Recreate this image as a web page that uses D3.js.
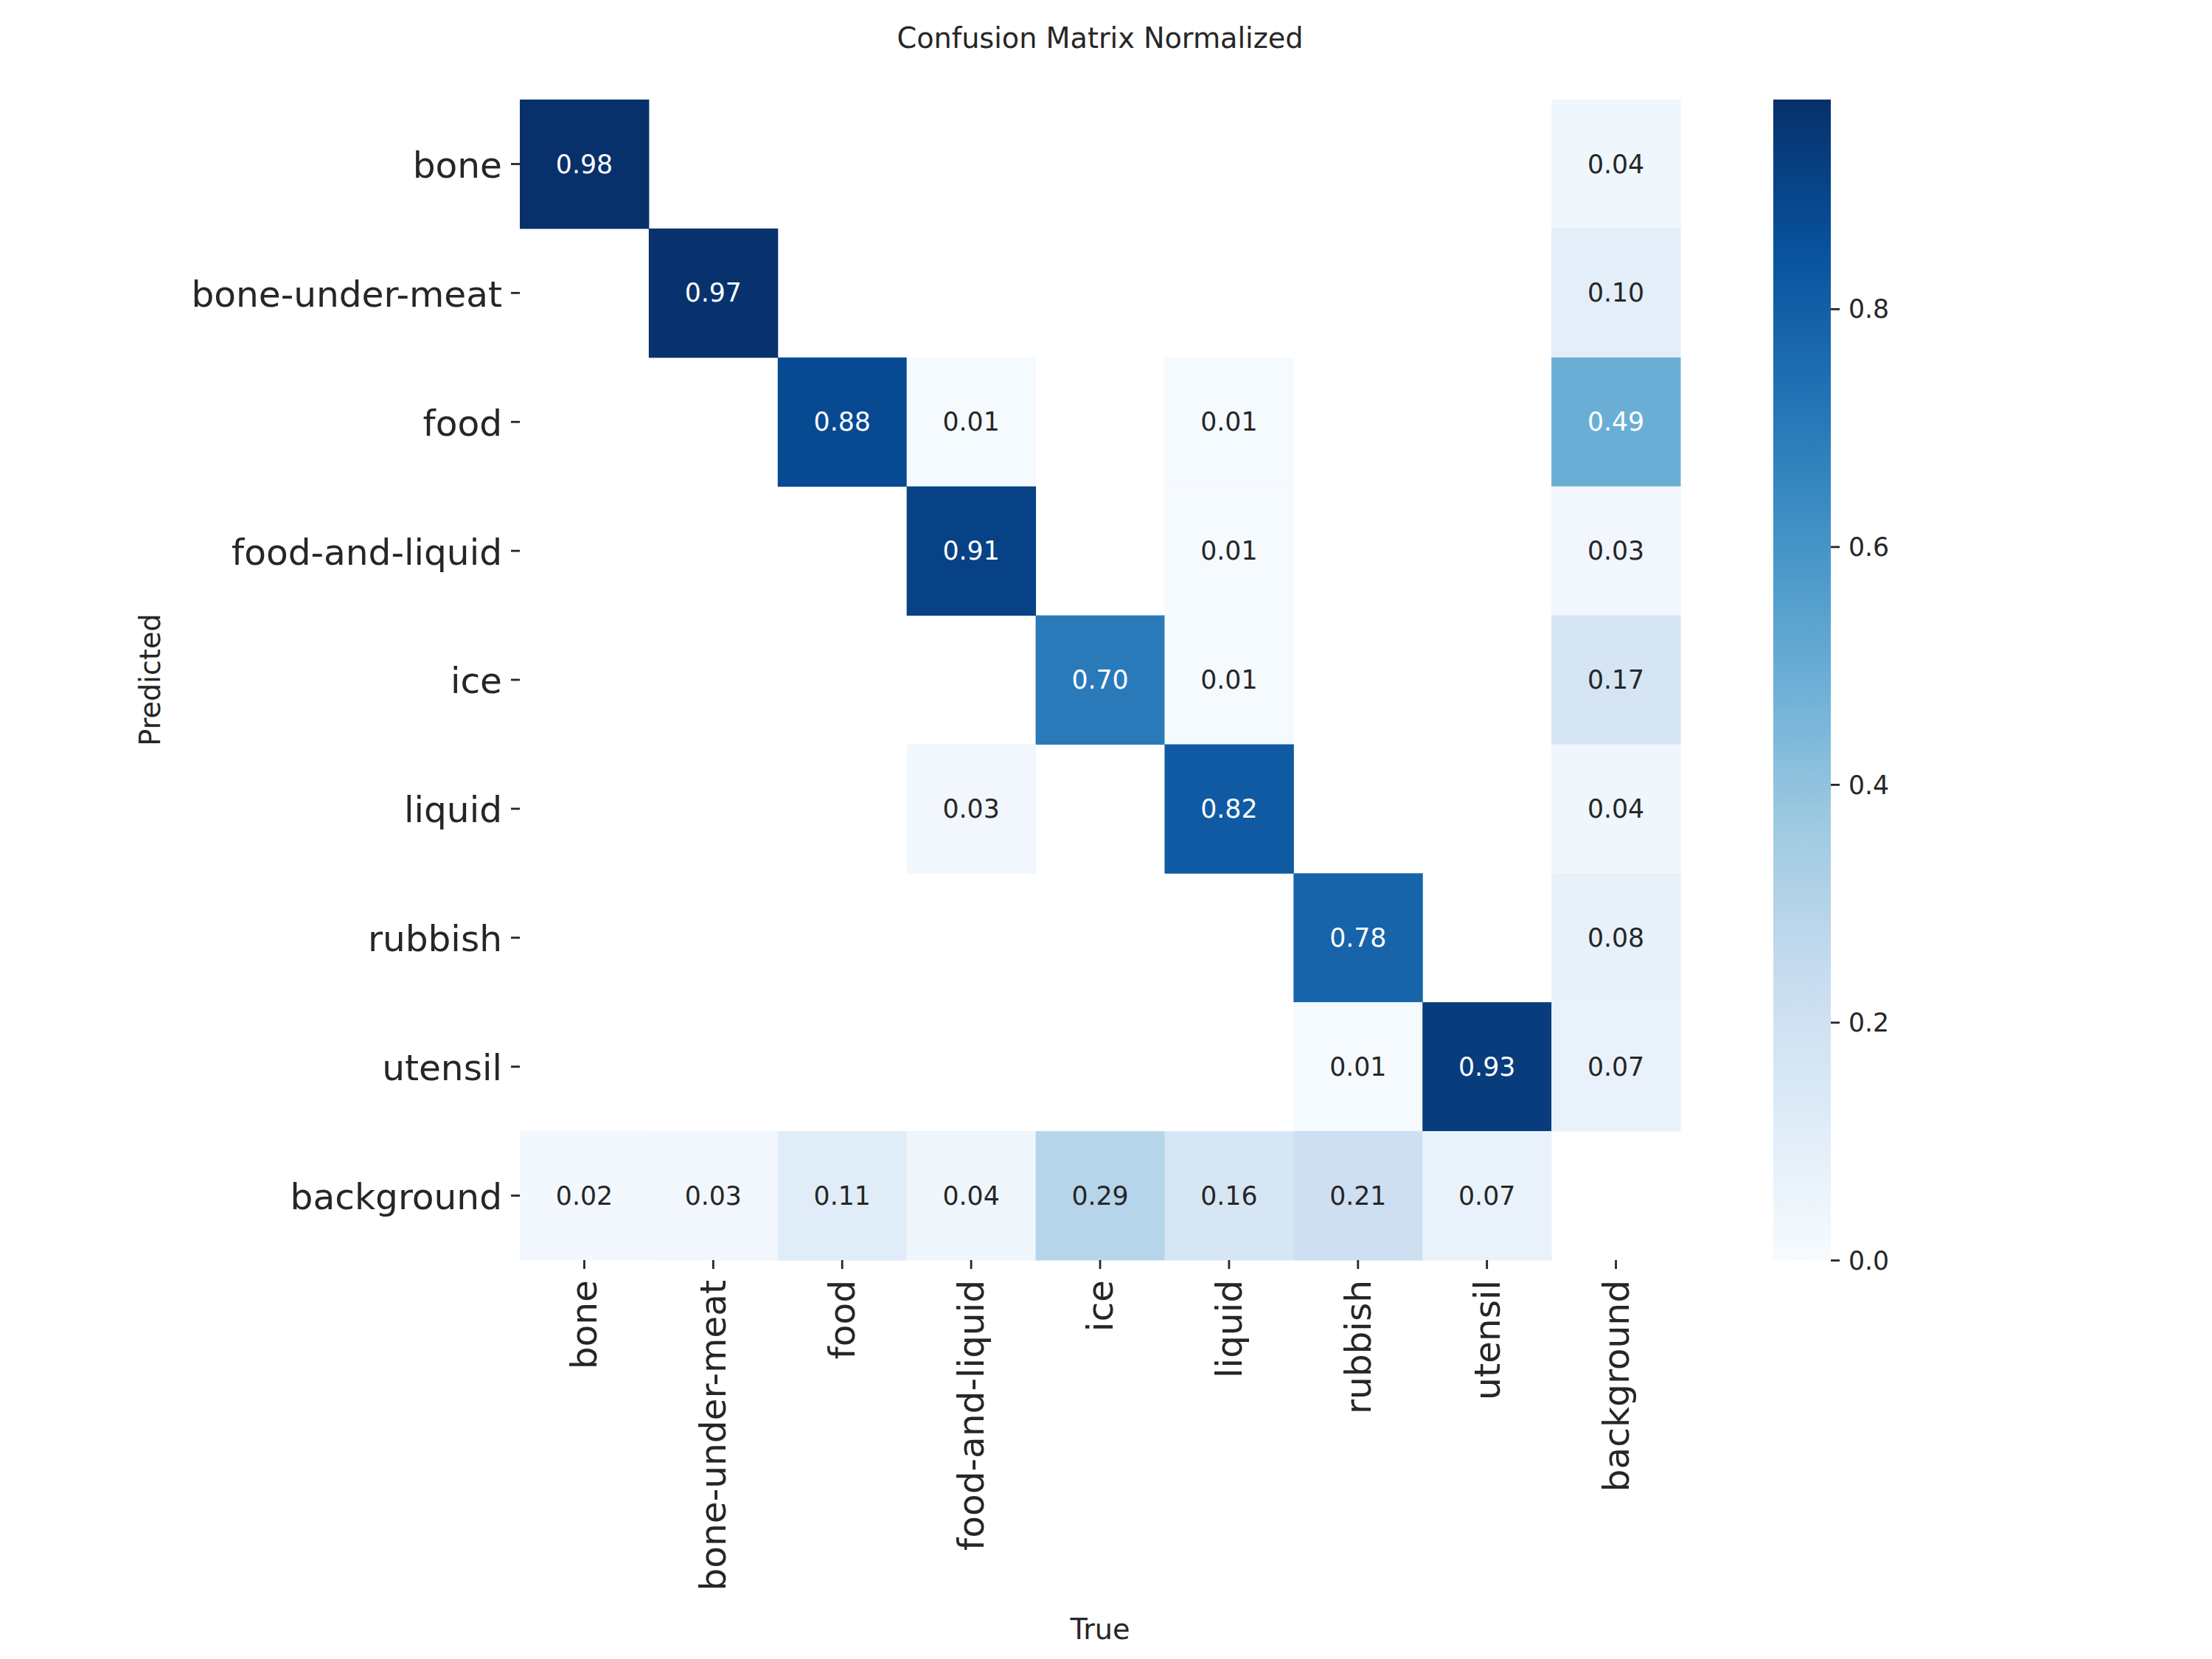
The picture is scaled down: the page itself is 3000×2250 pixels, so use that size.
<!DOCTYPE html>
<html>
<head>
<meta charset="utf-8">
<script src="https://cdn.jsdelivr.net/npm/d3@7"></script>
<style>
  html, body { margin: 0; padding: 0; background: #fff; }
  svg { display: block; font-family: "DejaVu Sans", sans-serif; }
</style>
</head>
<body>
<script>
// ---- data ----
const categories = ["bone", "bone-under-meat", "food", "food-and-liquid", "ice", "liquid", "rubbish", "utensil", "background"];
// rows = Predicted, columns = True; null = empty (below 0.005)
const rowBone        = [0.98, null, null, null, null, null, null, null, 0.04];
const rowBoneMeat    = [null, 0.97, null, null, null, null, null, null, 0.10];
const rowFood        = [null, null, 0.88, 0.01, null, 0.01, null, null, 0.49];
const rowFoodLiquid  = [null, null, null, 0.91, null, 0.01, null, null, 0.03];
const rowIce         = [null, null, null, null, 0.70, 0.01, null, null, 0.17];
const rowLiquid      = [null, null, null, 0.03, null, 0.82, null, null, 0.04];
const rowRubbish     = [null, null, null, null, null, null, 0.78, null, 0.08];
const rowUtensil     = [null, null, null, null, null, null, 0.01, 0.93, 0.07];
const rowBackground  = [0.02, 0.03, 0.11, 0.04, 0.29, 0.16, 0.21, 0.07, null];
const matrixRows = [rowBone, rowBoneMeat, rowFood, rowFoodLiquid, rowIce, rowLiquid, rowRubbish, rowUtensil, rowBackground];
const colorbarTicks = [0.0, 0.2, 0.4, 0.6, 0.8];
const vmin = 0.0, vmax = 0.976;
const titleText = "Confusion Matrix Normalized";
const xLabelText = "True";
const yLabelText = "Predicted";

// matplotlib "Blues" stops
const bluesStops = ["#f7fbff", "#deebf7", "#c6dbef", "#9ecae1", "#6baed6", "#4292c6", "#2171b5", "#08519c", "#08306b"];

// ---- layout ----
const W = 3000, H = 2250;
const x0 = 705, y0 = 135, size = 1574;
const cbX = 2405, cbW = 78;
const tickLen = 12, tickW = 2.8, pad = 12;
const textColor = "#262626";
const fsTick = 48.6, fsSmall = 34.7, fsLabel = 38.2;

const svg = d3.select("body").append("svg").attr("width", W).attr("height", H);

const x = d3.scaleBand().domain(categories).range([x0, x0 + size]);
const y = d3.scaleBand().domain(categories).range([y0, y0 + size]);
const tScale = d3.scaleLinear().domain([vmin, vmax]).range([0, 1]);
const cmap = d3.scaleLinear()
  .domain(bluesStops.map((_, i) => i / (bluesStops.length - 1)))
  .range(bluesStops)
  .interpolate(d3.interpolateRgb)
  .clamp(true);
const colorOf = v => cmap(tScale(v));

function relLum(c) {
  const rgb = d3.rgb(c);
  const lin = [rgb.r, rgb.g, rgb.b].map(v => {
    v = v / 255;
    return v <= 0.03928 ? v / 12.92 : Math.pow((v + 0.055) / 1.055, 2.4);
  });
  return 0.2126 * lin[0] + 0.7152 * lin[1] + 0.0722 * lin[2];
}

const cells = [];
matrixRows.forEach((row, i) => row.forEach((v, j) => {
  if (v !== null) cells.push({ r: categories[i], c: categories[j], v });
}));

// cells
svg.append("g").selectAll("rect").data(cells).join("rect")
  .attr("x", d => x(d.c)).attr("y", d => y(d.r))
  .attr("width", x.bandwidth() + 0.5).attr("height", y.bandwidth() + 0.5)
  .attr("fill", d => colorOf(d.v));

// annotations
svg.append("g").selectAll("text").data(cells).join("text")
  .attr("x", d => x(d.c) + x.bandwidth() / 2)
  .attr("y", d => y(d.r) + y.bandwidth() / 2)
  .attr("dy", "0.35em")
  .attr("text-anchor", "middle")
  .attr("font-size", fsSmall)
  .attr("fill", d => relLum(colorOf(d.v)) > 0.408 ? textColor : "#ffffff")
  .text(d => d.v.toFixed(2));

// y axis
const yAxis = d3.axisLeft(y).tickSize(tickLen).tickPadding(pad);
const gy = svg.append("g").attr("transform", `translate(${x0},0)`).call(yAxis);
gy.select(".domain").remove();
gy.selectAll(".tick line").attr("stroke", textColor).attr("stroke-width", tickW);
gy.selectAll(".tick text").attr("font-size", fsTick).attr("fill", textColor)
  .attr("font-family", "DejaVu Sans").attr("dy", "0.38em");

// x axis
const xAxis = d3.axisBottom(x).tickSize(tickLen).tickPadding(pad);
const gx = svg.append("g").attr("transform", `translate(0,${y0 + size})`).call(xAxis);
gx.select(".domain").remove();
gx.selectAll(".tick line").attr("stroke", textColor).attr("stroke-width", tickW);
gx.selectAll(".tick text")
  .attr("font-size", fsTick).attr("fill", textColor).attr("font-family", "DejaVu Sans")
  .attr("transform", `translate(0,${tickLen + pad + 3}) rotate(-90)`)
  .attr("x", 0).attr("y", 0).attr("dy", "0.35em")
  .attr("text-anchor", "end");

// colorbar
const defs = svg.append("defs");
const grad = defs.append("linearGradient").attr("id", "cbgrad")
  .attr("x1", 0).attr("y1", 1).attr("x2", 0).attr("y2", 0);
grad.selectAll("stop").data(d3.range(0, 101)).join("stop")
  .attr("offset", d => d / 100)
  .attr("stop-color", d => cmap(d / 100));
const cbY = d3.scaleLinear().domain([vmin, vmax]).range([y0 + size, y0]);
svg.append("rect").attr("x", cbX).attr("y", y0).attr("width", cbW).attr("height", size)
  .attr("fill", "url(#cbgrad)");
const cbAxis = d3.axisRight(cbY).tickValues(colorbarTicks).tickFormat(d3.format(".1f"))
  .tickSize(tickLen).tickPadding(pad);
const gcb = svg.append("g").attr("transform", `translate(${cbX + cbW},0)`).call(cbAxis);
gcb.select(".domain").remove();
gcb.selectAll(".tick line").attr("stroke", textColor).attr("stroke-width", tickW);
gcb.selectAll(".tick text").attr("font-size", fsSmall).attr("fill", textColor)
  .attr("font-family", "DejaVu Sans").attr("dy", "0.35em");

// title and axis labels
svg.append("text").attr("x", x0 + size / 2).attr("y", 65)
  .attr("text-anchor", "middle").attr("font-size", fsLabel).attr("fill", textColor)
  .text(titleText);
svg.append("text").attr("x", x0 + size / 2).attr("y", 2223)
  .attr("text-anchor", "middle").attr("font-size", fsLabel).attr("fill", textColor)
  .text(xLabelText);
svg.append("text")
  .attr("transform", `translate(217,${y0 + size / 2}) rotate(-90)`)
  .attr("text-anchor", "middle").attr("font-size", fsLabel).attr("fill", textColor)
  .text(yLabelText);
</script>
</body>
</html>
